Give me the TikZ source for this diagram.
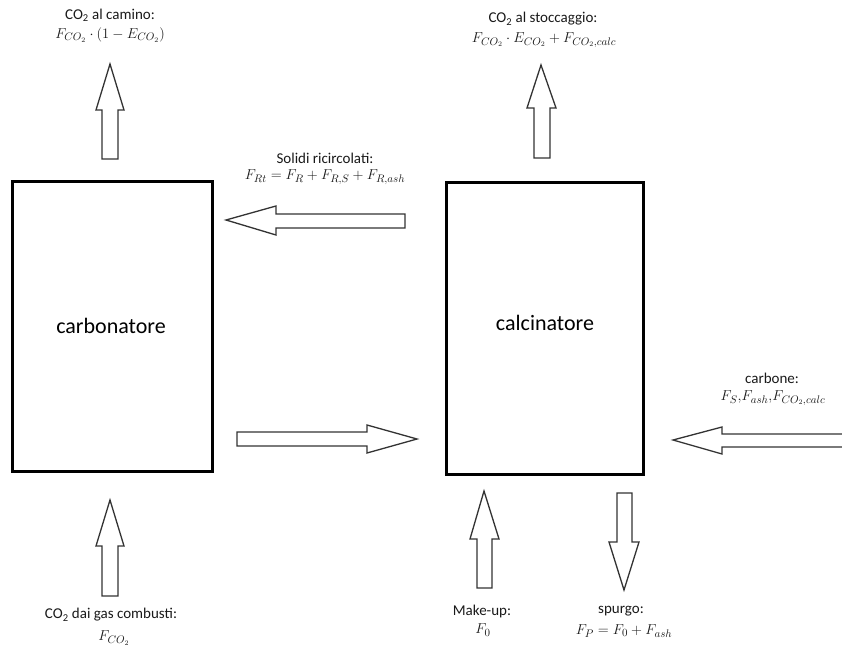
\documentclass[tikz,border=0pt]{standalone}
\usepackage{fontspec}
\setmainfont{Carlito}
\begin{document}
\begin{tikzpicture}[x=1pt,y=-1pt,
  reactor/.style={draw=black,line width=3pt,fill=white,minimum width=200pt,minimum height=290pt,inner sep=0pt,
    font=\fontsize{22}{26}\selectfont},
  blockarrow/.style={draw=black!80,line width=1.3pt,fill=white,line join=miter},
  lbl/.style={align=center,inner sep=0pt,font=\fontsize{15}{18}\selectfont,text=black!90}]
\useasboundingbox (0,0) rectangle (842,655);
% reactors
\node[reactor] (carb) at (112.5,326) {};
\node (carbT) at (111,326) [font=\fontsize{22}{26}\selectfont] {carbonatore};
\node[reactor,minimum width=197pt,minimum height=292pt] (calc) at (544.5,328) {};
\node (calcT) at (545,323) [font=\fontsize{22}{26}\selectfont] {calcinatore};
% up arrow top-left (camino)
\draw[blockarrow] (102,159) -- (102,110) -- (96,110) -- (110,64) -- (124,110) -- (118,110) -- (118,159) -- cycle;
% up arrow top-right (stoccaggio)
\draw[blockarrow] (534,158) -- (534,108) -- (527,108) -- (541,65) -- (556,108) -- (550,108) -- (550,158) -- cycle;
% left arrow (solidi ricircolati)
\draw[blockarrow] (405,214) -- (276,214) -- (276,206) -- (226,220) -- (276,235) -- (276,228) -- (405,228) -- cycle;
% right arrow middle
\draw[blockarrow] (237,432) -- (367,432) -- (367,425) -- (417,439) -- (367,453) -- (367,446) -- (237,446) -- cycle;
% carbone arrow from right edge
\draw[blockarrow] (845,434) -- (722,434) -- (722,427) -- (673,440) -- (722,454) -- (722,447) -- (845,447);
% bottom-left up arrow
\draw[blockarrow] (102,596) -- (102,546) -- (96,546) -- (110,500) -- (124,546) -- (118,546) -- (118,596) -- cycle;
% make-up arrow
\draw[blockarrow] (477,588) -- (477,539) -- (470,539) -- (484,491) -- (499,539) -- (492,539) -- (492,588) -- cycle;
% spurgo arrow (down)
\draw[blockarrow] (617,493) -- (617,542) -- (609,542) -- (624,590) -- (639,542) -- (632,542) -- (632,493) -- cycle;
% labels
\node[lbl] (l1a) at (110,15) {CO\textsubscript{2} al camino:};
\node[lbl] (l1b) at (110,35) {$F_{CO_2}\cdot(1-E_{CO_2})$};
\node[lbl] (l2a) at (543,19) {CO\textsubscript{2} al stoccaggio:};
\node[lbl] (l2b) at (544,40) {$F_{CO_2}\cdot E_{CO_2}+F_{CO_2,calc}$};
\node[lbl] (l3a) at (325,158) {Solidi ricircolati:};
\node[lbl] (l3b) at (325,177) {$F_{Rt}=F_R+F_{R,S}+F_{R,ash}$};
\node[lbl] (l4a) at (772,378) {carbone:};
\node[lbl] (l4b) at (773,398) {$F_S,\!F_{ash},\!F_{CO_2,calc}$};
\node[lbl] (l5a) at (111,615) {CO\textsubscript{2} dai gas combusti:};
\node[lbl] (l5b) at (114,638) {$F_{CO_2}$};
\node[lbl] (l6a) at (482,611) {Make-up:};
\node[lbl] (l6b) at (483,630) {$F_0$};
\node[lbl] (l7a) at (621,611) {spurgo:};
\node[lbl] (l7b) at (624,631) {$F_P=F_0+F_{ash}$};
\end{tikzpicture}
\end{document}
